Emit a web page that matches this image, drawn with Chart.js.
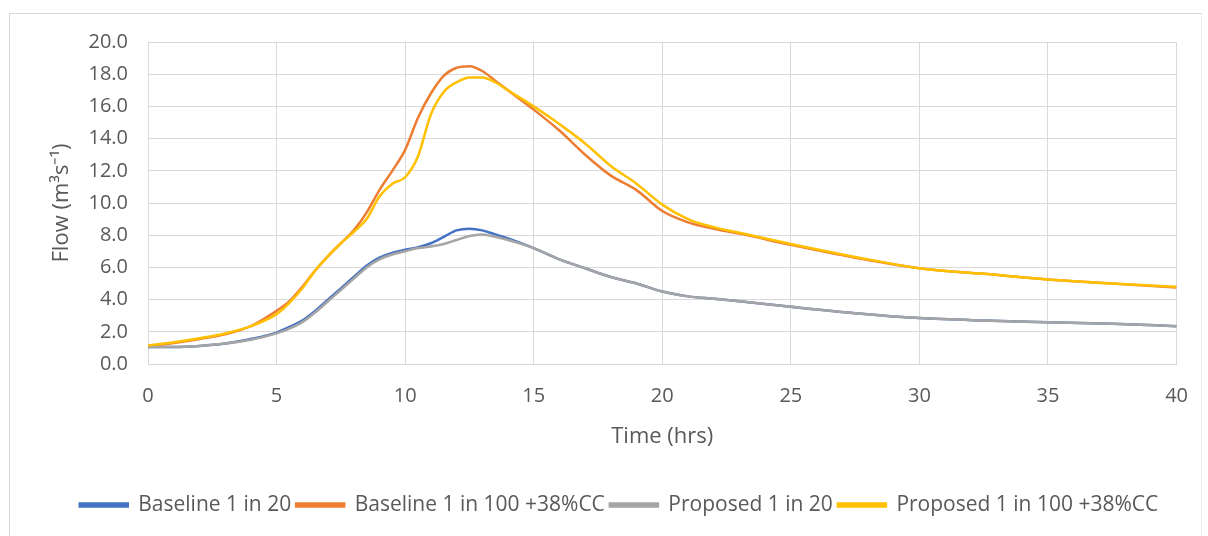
<!DOCTYPE html>
<html>
<head>
<meta charset="utf-8">
<script src="https://cdn.jsdelivr.net/npm/chart.js@4"></script>
<style>
  html, body { margin: 0; padding: 0; background: #fff; overflow: hidden; }
  #frame {
    position: absolute; left: 9px; top: 13px; width: 1191px; height: 600px;
    border-left: 1px solid #d9d9d9; border-top: 1px solid #d9d9d9; border-right: 1px solid #eeeeee;
  }
  #chartCanvas { position: absolute; left: 0; top: 0; }
</style>
</head>
<body>
<div id="frame"></div>
<canvas id="chartCanvas" width="1208" height="536"></canvas>
<script>
// hydrograph times (hrs)
const times = [0, 1, 2, 3, 4, 5, 5.5, 6, 6.5, 7, 7.5, 8, 8.5, 9, 9.5, 10, 10.5, 11, 11.5, 12, 12.5, 13, 13.5, 14,
  15, 16, 17, 18, 19, 20, 21, 22, 23, 25, 27.5, 30, 32.5, 35, 37.5, 40];

// flows (m3/s)
const baseline20 = [1.05, 1.05, 1.12, 1.27, 1.55, 1.95, 2.3, 2.7, 3.3, 4.0, 4.7, 5.4, 6.1, 6.6, 6.9, 7.1, 7.25, 7.5, 7.9, 8.3, 8.4, 8.3, 8.05, 7.8,
  7.2, 6.5, 5.95, 5.4, 5.0, 4.5, 4.2, 4.05, 3.9, 3.55, 3.15, 2.85, 2.7, 2.6, 2.5, 2.35];
const baseline100 = [1.12, 1.3, 1.55, 1.85, 2.35, 3.3, 3.9, 4.8, 5.8, 6.7, 7.5, 8.3, 9.4, 10.8, 12.0, 13.3, 15.3, 16.8, 17.9, 18.4, 18.5, 18.2, 17.6, 17.0,
  15.8, 14.5, 13.0, 11.7, 10.8, 9.5, 8.8, 8.4, 8.1, 7.4, 6.6, 5.95, 5.6, 5.25, 5.0, 4.75];
const proposed20 = [1.05, 1.05, 1.12, 1.27, 1.5, 1.9, 2.2, 2.6, 3.2, 3.9, 4.6, 5.3, 6.0, 6.5, 6.8, 7.0, 7.2, 7.3, 7.45, 7.7, 7.95, 8.05, 7.9, 7.7,
  7.2, 6.5, 5.95, 5.4, 5.0, 4.5, 4.2, 4.05, 3.9, 3.55, 3.15, 2.85, 2.7, 2.6, 2.5, 2.35];
const proposed100 = [1.15, 1.35, 1.6, 1.9, 2.35, 3.1, 3.8, 4.7, 5.8, 6.7, 7.5, 8.2, 9.0, 10.4, 11.2, 11.6, 12.9, 15.5, 16.9, 17.5, 17.8, 17.8, 17.5, 17.0,
  16.0, 14.9, 13.7, 12.3, 11.2, 9.9, 9.0, 8.5, 8.15, 7.45, 6.65, 5.95, 5.6, 5.25, 5.0, 4.8];

const seriesNames = ['Baseline 1 in 20', 'Baseline 1 in 100 +38%CC', 'Proposed 1 in 20', 'Proposed 1 in 100 +38%CC'];
const seriesColors = ['#4472c4', '#ed7d31', '#a5a5a5', '#ffc000'];
const seriesData = [baseline20, baseline100, proposed20, proposed100];

const FONT = '"Open Sans", "Liberation Sans", sans-serif';
const TEXT = '#595959';
const GRID = '#d9d9d9';
const PAD_LEFT = 60; // shifts the centred legend to the right

const datasets = seriesData.map((vals, i) => ({
  label: seriesNames[i],
  data: vals.map((v, j) => ({ x: times[j], y: v })),
  borderColor: seriesColors[i],
  backgroundColor: seriesColors[i],
  borderWidth: 2.5,
  pointRadius: 0,
  fill: false,
  cubicInterpolationMode: 'monotone',
  order: 4 - i   // later series drawn on top
}));

new Chart(document.getElementById('chartCanvas').getContext('2d'), {
  type: 'line',
  data: { datasets: datasets },
  options: {
    responsive: false,
    animation: false,
    layout: { padding: { left: PAD_LEFT, right: 30, top: 42, bottom: 10.5 } },
    plugins: {
      tooltip: { enabled: false },
      legend: {
        position: 'bottom',
        labels: {
          color: TEXT,
          font: { family: FONT, size: 21 },
          boxWidth: 48,
          boxHeight: 3,
          padding: 5,
          sort: (a, b) => a.datasetIndex - b.datasetIndex
        }
      }
    },
    scales: {
      x: {
        type: 'linear',
        min: 0,
        max: 40,
        afterFit: (s) => { s.height = 125.5; },
        ticks: { stepSize: 5, color: TEXT, font: { family: FONT, size: 20 }, padding: 20 },
        grid: { color: GRID, drawTicks: false },
        border: { color: GRID },
        title: {
          display: true,
          text: 'Time (hrs)',
          color: TEXT,
          font: { family: FONT, size: 22 },
          padding: { top: 0, bottom: 40 }
        }
      },
      y: {
        min: 0,
        max: 20,
        afterFit: (s) => { s.width = 148 - PAD_LEFT; },
        ticks: {
          stepSize: 2,
          color: TEXT,
          font: { family: FONT, size: 20 },
          padding: 20,
          callback: (v) => v.toFixed(1)
        },
        grid: { color: GRID, drawTicks: false },
        border: { color: GRID },
        title: {
          display: true,
          text: 'Flow (m³s⁻¹)',
          color: TEXT,
          font: { family: FONT, size: 22 },
          padding: { top: 49 - PAD_LEFT, bottom: 0 }
        }
      }
    }
  }
});
</script>
</body>
</html>
